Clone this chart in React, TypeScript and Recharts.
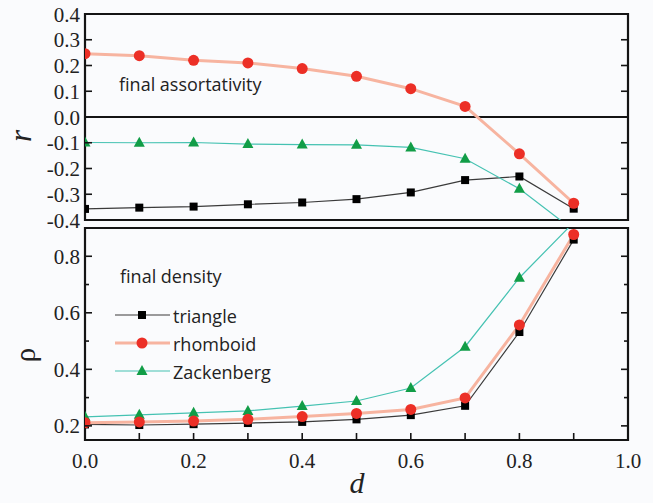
import React from "react";
import { LineChart, Line, XAxis, YAxis, ReferenceLine, ReferenceArea } from "recharts";

// d values (x axis)
const dValues = [0, 0.1, 0.2, 0.3, 0.4, 0.5, 0.6, 0.7, 0.8, 0.9];

// final assortativity r
const rTriangle = [-0.357, -0.352, -0.348, -0.339, -0.332, -0.319, -0.293, -0.245, -0.231, -0.356];
const rRhomboid = [0.246, 0.238, 0.22, 0.21, 0.188, 0.158, 0.11, 0.041, -0.143, -0.335];
const rZackenberg = [-0.099, -0.1, -0.099, -0.105, -0.107, -0.108, -0.118, -0.162, -0.279, -0.44];

// final density rho
const rhoTriangle = [0.205, 0.203, 0.206, 0.21, 0.214, 0.223, 0.238, 0.271, 0.532, 0.859];
const rhoRhomboid = [0.211, 0.214, 0.217, 0.223, 0.233, 0.244, 0.258, 0.299, 0.557, 0.877];
const rhoZackenberg = [0.232, 0.239, 0.246, 0.253, 0.27, 0.288, 0.334, 0.48, 0.724, 0.92];

const xTicks = [0, 0.1, 0.2, 0.3, 0.4, 0.5, 0.6, 0.7, 0.8, 0.9, 1.0];
const xLabelTicks = [0, 0.2, 0.4, 0.6, 0.8, 1.0];
const rTicks = [-0.4, -0.3, -0.2, -0.1, 0, 0.1, 0.2, 0.3, 0.4];
const rhoTicks = [0.2, 0.3, 0.4, 0.5, 0.6, 0.7, 0.8];
const rhoLabelTicks = [0.2, 0.4, 0.6, 0.8];

const seriesNames = ["triangle", "rhomboid", "Zackenberg"];

const rData = dValues.map((d, i) => ({
  d,
  triangle: rTriangle[i],
  rhomboid: rRhomboid[i],
  zackenberg: rZackenberg[i],
}));

const rhoData = dValues.map((d, i) => ({
  d,
  triangle: rhoTriangle[i],
  rhomboid: rhoRhomboid[i],
  zackenberg: rhoZackenberg[i],
}));

const INK = "#141414";
const BG = "#fafbfd";
const SERIF = "'Liberation Serif', 'DejaVu Serif', serif";
const SANS = "'Open Sans', 'Noto Sans', sans-serif";

const BLACK_LINE = "#3a3a3a";
const BLACK_MARK = "#000000";
const RED_LINE = "#f7b4a0";
const RED_MARK = "#ec2f26";
const GREEN_LINE = "#45c2b2";
const GREEN_MARK = "#119d47";

const has = (list: number[], v: number) => list.some((t) => Math.abs(t - v) < 1e-6);

function FrameTick(props: any) {
  const { x, y, payload, side, labels, shortMinor } = props;
  const v = payload.value;
  const showLabel = labels && has(labels, v);
  const len = shortMinor && !showLabel ? 4 : 7;
  const text = v.toFixed(1);
  const stroke = { stroke: INK, strokeWidth: 1.6 };
  if (side === "left") {
    return (
      <g>
        <line x1={x} y1={y} x2={x + len} y2={y} {...stroke} />
        {showLabel && (
          <text x={x - 5} y={y} dy="0.36em" textAnchor="end" fontFamily={SERIF} fontSize={21} fill="#222">
            {text}
          </text>
        )}
      </g>
    );
  }
  if (side === "right") {
    return <line x1={x} y1={y} x2={x - len} y2={y} {...stroke} />;
  }
  if (side === "top") {
    return <line x1={x} y1={y} x2={x} y2={y + len} {...stroke} />;
  }
  return (
    <g>
      <line x1={x} y1={y} x2={x} y2={y - len} {...stroke} />
      {showLabel && (
        <text x={x} y={y + 28} textAnchor="middle" fontFamily={SERIF} fontSize={21} fill="#222">
          {text}
        </text>
      )}
    </g>
  );
}

const SquareDot = (p: any) => (
  <rect key={`sq-${p.index}`} x={p.cx - 4} y={p.cy - 4} width={8} height={8} fill={BLACK_MARK} />
);

const TriangleDot = (p: any) => (
  <polygon
    key={`tr-${p.index}`}
    points={`${p.cx},${p.cy - 6} ${p.cx - 5.5},${p.cy + 4} ${p.cx + 5.5},${p.cy + 4}`}
    fill={GREEN_MARK}
  />
);

function Panel({
  data,
  domain,
  yTicks,
  yLabels,
  shortMinor,
  bottomLabels,
  height,
  margin,
  bottomHeight,
  zeroLine,
}: any) {
  return (
    <LineChart width={653} height={height} data={data} margin={margin}>
      <XAxis
        xAxisId="b"
        dataKey="d"
        type="number"
        domain={[0, 1]}
        ticks={xTicks}
        interval={0}
        orientation="bottom"
        height={bottomHeight}
        allowDataOverflow
        axisLine={false}
        tickLine={false}
        tickSize={0}
        tickMargin={0}
        tick={(p: any) => <FrameTick {...p} side="bottom" labels={bottomLabels} />}
      />
      <XAxis
        xAxisId="t"
        dataKey="d"
        type="number"
        domain={[0, 1]}
        ticks={xTicks}
        interval={0}
        orientation="top"
        height={0}
        allowDataOverflow
        axisLine={false}
        tickLine={false}
        tickSize={0}
        tickMargin={0}
        tick={(p: any) => <FrameTick {...p} side="top" />}
      />
      <YAxis
        yAxisId="l"
        type="number"
        domain={domain}
        ticks={yTicks}
        interval={0}
        width={85}
        allowDataOverflow
        axisLine={false}
        tickLine={false}
        tickSize={0}
        tickMargin={0}
        tick={(p: any) => <FrameTick {...p} side="left" labels={yLabels} shortMinor={shortMinor} />}
      />
      <YAxis
        yAxisId="r"
        orientation="right"
        type="number"
        domain={domain}
        ticks={yTicks}
        interval={0}
        width={25}
        allowDataOverflow
        axisLine={false}
        tickLine={false}
        tickSize={0}
        tickMargin={0}
        tick={(p: any) => <FrameTick {...p} side="right" labels={yLabels} shortMinor={shortMinor} />}
      />
      <ReferenceArea
        xAxisId="b"
        yAxisId="l"
        x1={0}
        x2={1}
        y1={domain[0]}
        y2={domain[1]}
        fill="none"
        fillOpacity={0}
        stroke={INK}
        strokeWidth={2.2}
        ifOverflow="visible"
      />
      {zeroLine && <ReferenceLine xAxisId="b" yAxisId="l" y={0} stroke={INK} strokeWidth={1.8} />}
      <Line
        xAxisId="b"
        yAxisId="l"
        dataKey="triangle"
        name={seriesNames[0]}
        type="linear"
        stroke={BLACK_LINE}
        strokeWidth={1.2}
        dot={SquareDot}
        activeDot={false}
        isAnimationActive={false}
      />
      <Line
        xAxisId="b"
        yAxisId="l"
        dataKey="zackenberg"
        name={seriesNames[2]}
        type="linear"
        stroke={GREEN_LINE}
        strokeWidth={1.2}
        dot={TriangleDot}
        activeDot={false}
        isAnimationActive={false}
      />
      <Line
        xAxisId="b"
        yAxisId="l"
        dataKey="rhomboid"
        name={seriesNames[1]}
        type="linear"
        stroke={RED_LINE}
        strokeWidth={3}
        dot={{ r: 5.5, fill: RED_MARK, stroke: "none" }}
        activeDot={false}
        isAnimationActive={false}
      />
    </LineChart>
  );
}

function Overlay() {
  const rows = [
    { name: seriesNames[0], line: BLACK_LINE, width: 1.2, y: 315 },
    { name: seriesNames[1], line: RED_LINE, width: 3, y: 343 },
    { name: seriesNames[2], line: GREEN_LINE, width: 1.2, y: 371 },
  ];
  return (
    <svg
      width={653}
      height={503}
      style={{ position: "absolute", left: 0, top: 0, pointerEvents: "none" }}
    >
      <text x={119} y={91} fontFamily={SANS} fontSize={18} fill="#222">
        final assortativity
      </text>
      <text x={120} y={283} fontFamily={SANS} fontSize={18} fill="#222">
        final density
      </text>
      {rows.map((row, i) => (
        <g key={row.name}>
          <line x1={115} y1={row.y} x2={170} y2={row.y} stroke={row.line} strokeWidth={row.width} />
          {i === 0 && <rect x={138} y={row.y - 4} width={8} height={8} fill={BLACK_MARK} />}
          {i === 1 && <circle cx={142} cy={row.y} r={5.5} fill={RED_MARK} />}
          {i === 2 && (
            <polygon
              points={`142,${row.y - 6} 136.5,${row.y + 4} 147.5,${row.y + 4}`}
              fill={GREEN_MARK}
            />
          )}
          <text x={173} y={row.y + 8} fontFamily={SANS} fontSize={18} fill="#222">
            {row.name}
          </text>
        </g>
      ))}
      <text
        x={0}
        y={0}
        transform="translate(31,136) rotate(-90)"
        textAnchor="middle"
        fontFamily={SERIF}
        fontStyle="italic"
        fontSize={31}
        fill="#222"
      >
        r
      </text>
      <text
        x={0}
        y={0}
        transform="translate(35,355) rotate(-90)"
        textAnchor="middle"
        fontFamily={SERIF}
        fontSize={29}
        fill="#222"
      >
        ρ
      </text>
      <text
        x={357}
        y={493}
        textAnchor="middle"
        fontFamily={SERIF}
        fontStyle="italic"
        fontSize={30}
        fill="#222"
      >
        d
      </text>
    </svg>
  );
}

export default function App() {
  return (
    <div
      style={{
        position: "absolute",
        left: 0,
        top: 0,
        width: 653,
        height: 503,
        background: BG,
        overflow: "hidden",
      }}
    >
      <div style={{ position: "absolute", left: 0, top: 224 }}>
        <Panel
          data={rhoData}
          domain={[0.15, 0.9]}
          yTicks={rhoTicks}
          yLabels={rhoLabelTicks}
          shortMinor
          bottomLabels={xLabelTicks}
          height={279}
          margin={{ top: 4, right: 0, bottom: 33, left: 0 }}
          bottomHeight={30}
          zeroLine={false}
        />
      </div>
      <div style={{ position: "absolute", left: 0, top: 0 }}>
        <Panel
          data={rData}
          domain={[-0.4, 0.4]}
          yTicks={rTicks}
          yLabels={rTicks}
          shortMinor={false}
          bottomLabels={undefined}
          height={234}
          margin={{ top: 14, right: 0, bottom: 14, left: 0 }}
          bottomHeight={0}
          zeroLine
        />
      </div>
      <Overlay />
    </div>
  );
}
